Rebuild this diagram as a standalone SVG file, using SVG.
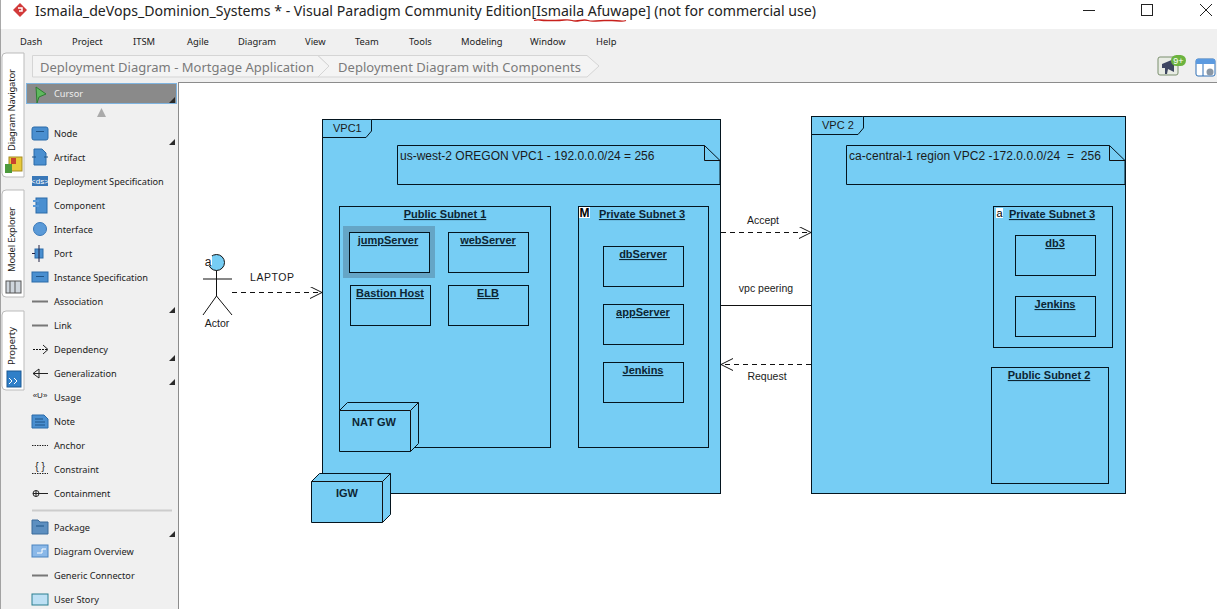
<svg xmlns="http://www.w3.org/2000/svg" width="1217" height="609" viewBox="0 0 1217 609">
<style>
text{font-family:"Liberation Sans",Arial,sans-serif;fill:#1a1a1a}
.ui{font-family:"Noto Sans","Open Sans",sans-serif}
.menu{font-family:"Noto Sans",sans-serif;font-size:9.4px;fill:#222}
.pal{font-family:"Noto Sans",sans-serif;font-size:9.2px;fill:#222}
.crumb{font-family:"Noto Sans",sans-serif;font-size:13px;fill:#7a7a7a}
.side{font-family:"Noto Sans",sans-serif;font-size:9.5px;fill:#222}
.box{fill:#76cdf4;stroke:#04151f;stroke-width:1}
.t{font-size:11px;font-weight:bold;text-anchor:middle;text-decoration:underline;fill:#0c2533}
.nn{font-size:11px;font-weight:bold;text-anchor:middle;fill:#0c2533}
.lbl{font-size:10.5px;text-anchor:middle}
.note{font-size:12px}
.conn{fill:none;stroke:#111;stroke-width:1}
.dash{stroke-dasharray:5 4}
.ic{fill:#4a8fd0;stroke:#2a6aa8;stroke-width:1}
.il{fill:none;stroke:#1f5488;stroke-width:1}
.gl{fill:none;stroke:#777;stroke-width:2}
.bl{fill:none;stroke:#222;stroke-width:1}
.tri{fill:#2a2a2a}
</style>
<defs>
<marker id="open" markerWidth="14" markerHeight="14" refX="12" refY="6" orient="auto-start-reverse" markerUnits="userSpaceOnUse"><path d="M0 0 L12 6 L0 12" fill="none" stroke="#111" stroke-width="1"/></marker>
</defs>
<rect width="1217" height="609" fill="#fff"/>
<g id="window-chrome">
<rect x="0" y="29" width="1217" height="53" fill="#f0f0f0"/>
<rect x="0" y="82" width="178" height="527" fill="#f0f0f0"/>
<path d="M178.500 82.500H1217M178.500 82V609" stroke="#8c8c8c" fill="none"/>
<path d="M0 0V609" stroke="#555" stroke-width="1"/>
<path d="M20 3 L27 10 L20 17 L13 10Z" fill="#d23a3a"/>
<path d="M18 8h4v3h-3" fill="none" stroke="#fff" stroke-width="1.500"/>
<text class="ui" x="35" y="16" font-size="14.500" textLength="781" lengthAdjust="spacingAndGlyphs" style="fill:#222">Ismaila_deVops_Dominion_Systems * - Visual Paradigm Community Edition[Ismaila Afuwape] (not for commercial use)</text>
<path d="M534 20.500q3 -1 6 -.5t8 .5t8 0t8 -.5t8 .5t8 0t8 0t8 .5t8 -.5t8 0t8 .5t6 -.5" fill="none" stroke="#c8201c" stroke-width="1.300"/>
<path d="M1083 10.500H1095M1200 4L1212 16M1212 4L1200 16" stroke="#222" fill="none"/>
<rect x="1141.500" y="4.500" width="11" height="11" fill="none" stroke="#222"/>
<g id="menu">
<text class="menu" x="20" y="45">Dash</text><text class="menu" x="72" y="45">Project</text><text class="menu" x="133" y="45">ITSM</text><text class="menu" x="187" y="45">Agile</text><text class="menu" x="238" y="45">Diagram</text><text class="menu" x="305" y="45">View</text><text class="menu" x="355" y="45">Team</text><text class="menu" x="409" y="45">Tools</text><text class="menu" x="461" y="45">Modeling</text><text class="menu" x="530" y="45">Window</text><text class="menu" x="596" y="45">Help</text>
</g>
<g id="breadcrumb">
<path d="M32.500 77V55.500H318L329 66L318 77Z" fill="#f4f4f4" stroke="#d5d5d5"/>
<path d="M318 55.500H587L599 66L587 77H318L329 66Z" fill="#f4f4f4" stroke="#d5d5d5"/>
<text class="crumb" x="40" y="71.500" textLength="274">Deployment Diagram - Mortgage Application</text>
<text class="crumb" x="338" y="71.500" textLength="243">Deployment Diagram with Components</text>
</g>
<g id="top-icons">
<rect x="1158" y="57" width="20" height="18" rx="2" fill="#e8ece4" stroke="#7b8f6e"/>
<path d="M1162 64L1174 59V72L1168 69L1167 74H1165L1165 68H1162Z" fill="#3d4660"/>
<rect x="1171" y="55" width="15" height="11" rx="5.500" fill="#6cb33f"/>
<text x="1178.500" y="64" font-size="9" text-anchor="middle" style="fill:#fff">9+</text>
<rect x="1196" y="59" width="19" height="17" rx="2" fill="#fff" stroke="#2e6fb5"/>
<rect x="1196" y="59" width="19" height="5" fill="#5b9ae0"/>
<path d="M1203 64V76" stroke="#2e6fb5"/>
<circle cx="1210" cy="72" r="3.500" fill="#8a97a5"/>
</g>
<g id="side-tabs">
<path d="M24 177H6Q2 177 2 173V57Q2 53 6 53H24Z" fill="#fff" stroke="#bbb"/>
<path d="M24 297H6Q2 297 2 293V194Q2 190 6 190H24Z" fill="#fff" stroke="#bbb"/>
<path d="M24 390H6Q2 390 2 386V315Q2 311 6 311H24Z" fill="#fff" stroke="#bbb"/>
<text class="side" transform="translate(15 151) rotate(-90)" textLength="82">Diagram Navigator</text>
<text class="side" transform="translate(15 272) rotate(-90)" textLength="65">Model Explorer</text>
<text class="side" transform="translate(15 365) rotate(-90)" textLength="38">Property</text>
<rect x="9" y="157" width="13" height="14" fill="#e8c93a" stroke="#a38a20"/><rect x="5" y="164" width="7" height="9" fill="#4c9a3c"/><rect x="11" y="158" width="5" height="6" fill="#c8412f"/>
<rect x="6" y="281" width="15" height="12" fill="#cfd6dd" stroke="#555"/><path d="M10 281V293M15 281V293" stroke="#555"/>
<rect x="7" y="371" width="14" height="16" fill="#2f7fc8" stroke="#1d5a94"/><path d="M9 378l3 3l-3 3M14 378l3 3l-3 3" fill="none" stroke="#fff"/>
</g>
<g id="palette">
<rect x="26.500" y="83.500" width="150" height="20" fill="#8a8a8a" stroke="#7fb4e0"/>
<path d="M36 87L46 94L39 97L37 103Z" fill="#5fb85f" stroke="#2e7d32"/>
<text class="pal" x="54" y="96.500" style="fill:#eee">Cursor</text>
<path d="M101.500 108L106 117H97Z" fill="#aaa"/>
<g class="tri"><path d="M175 97V103H169Z"/><path d="M175 139V145H169Z"/><path d="M175 307V313H169Z"/><path d="M175 355V361H169Z"/><path d="M175 379V385H169Z"/><path d="M175 531V537H169Z"/></g>
<rect class="ic" x="32" y="127" width="16" height="13" rx="2"/><path class="il" d="M36 131.500H44"/>
<path class="ic" d="M34 149H42L46 153V165H34Z"/><path d="M32 157H36M44 157H48" stroke="#1f5488"/>
<rect x="32" y="176" width="16" height="10" fill="#3a78b8"/><text x="40" y="184" font-size="8" text-anchor="middle" style="fill:#fff">&lt;ds&gt;</text>
<rect class="ic" x="36" y="198" width="11" height="15"/><path d="M33 201h6M33 206h6" stroke="#5a9ad8" stroke-width="2"/>
<circle cx="40" cy="229" r="6.500" fill="#5a9ad8" stroke="#3a78b8"/>
<rect class="ic" x="35" y="249" width="8" height="9"/><path d="M39 245V262M32 253.500H35" stroke="#224"/>
<rect class="ic" x="32" y="272" width="16" height="10"/><path class="il" d="M36 276.500H44"/>
<path class="gl" d="M32 301.500H48M32 325.500H48M32 575.500H48"/>
<path class="conn" style="stroke-dasharray:2 1" d="M33 349.500H47"/><path class="bl" d="M43 345L48 349.500L43 354"/>
<path class="bl" d="M33 373.500H48M39 369L33 373.500L39 378Z"/>
<text x="40" y="398" font-size="8" text-anchor="middle" style="fill:#222">«U»</text>
<path class="ic" d="M32 415H44L48 419V428H32Z"/><path class="il" d="M35 419H43M35 422H45M35 425H45"/>
<path class="bl" style="stroke-dasharray:1.500 1" d="M32 445.500H48"/>
<text x="40" y="470" font-size="10" text-anchor="middle" style="fill:#222">{ }</text><path class="bl" style="stroke-dasharray:1.500 1" d="M32 473.500H48"/>
<circle cx="36" cy="493.500" r="3" fill="none" stroke="#222"/><path class="bl" d="M33 493.500H48M36 490.500V496.500"/>
<path d="M32 510.500H172" stroke="#ccc" stroke-width="2"/>
<path d="M32 520H38L40 522H48V534H32Z" fill="#5d8fc0" stroke="#3a6a9a"/><path class="il" d="M36 526H44"/>
<rect x="32" y="545" width="16" height="12" fill="#8ab8e8" stroke="#4a84c0"/><path d="M37 553H42V549H46" fill="none" stroke="#fff"/>
<rect x="32" y="594" width="16" height="11" fill="#bde0f4" stroke="#2a7f8f"/>
<text class="pal" x="54" y="136.500">Node</text>
<text class="pal" x="54" y="160.500">Artifact</text>
<text class="pal" x="54" y="184.500">Deployment Specification</text>
<text class="pal" x="54" y="208.500">Component</text>
<text class="pal" x="54" y="232.500">Interface</text>
<text class="pal" x="54" y="256.500">Port</text>
<text class="pal" x="54" y="280.500">Instance Specification</text>
<text class="pal" x="54" y="304.500">Association</text>
<text class="pal" x="54" y="328.500">Link</text>
<text class="pal" x="54" y="352.500">Dependency</text>
<text class="pal" x="54" y="376.500">Generalization</text>
<text class="pal" x="54" y="400.500">Usage</text>
<text class="pal" x="54" y="424.500">Note</text>
<text class="pal" x="54" y="448.500">Anchor</text>
<text class="pal" x="54" y="472.500">Constraint</text>
<text class="pal" x="54" y="496.500">Containment</text>
<text class="pal" x="54" y="530.500">Package</text>
<text class="pal" x="54" y="554.500">Diagram Overview</text>
<text class="pal" x="54" y="578.500">Generic Connector</text>
<text class="pal" x="54" y="602.500">User Story</text>
</g>
</g>
<g id="vpc1">
<rect class="box" x="322.500" y="119.500" width="398" height="374"/>
<path class="box" d="M322.500 137.500H366L371.500 131V119.500"/>
<text x="333" y="132" font-size="11">VPC1</text>
</g>
<g id="vpc2">
<rect class="box" x="811.500" y="116.500" width="314" height="377"/>
<path class="box" d="M811.500 134.500H858L863.500 128V116.500"/>
<text x="822" y="129" font-size="11">VPC 2</text>
</g>
<g id="note-vpc1">
<path class="box" d="M397.500 145.500H704.500L720 160.500V184.500H397.500Z"/>
<path class="conn" d="M704.500 145.500V160.500H720"/>
<text class="note" x="400" y="160">us-west-2 OREGON VPC1 - 192.0.0.0/24 = 256</text>
</g>
<g id="note-vpc2">
<path class="box" d="M846.500 145.500H1109.500L1125 160.500V184.500H846.500Z"/>
<path class="conn" d="M1109.500 145.500V160.500H1125"/>
<text class="note" x="849" y="160" textLength="252" xml:space="preserve">ca-central-1 region VPC2 -172.0.0.0/24  =  256</text>
</g>
<g id="public-subnet-1"><rect class="box" x="339.500" y="206.500" width="211" height="241"/><text class="t" x="445" y="218">Public Subnet 1</text></g>
<g id="jumpServer"><rect x="343" y="226" width="92" height="52" fill="#65a5c6"/><rect class="box" x="349.500" y="232.500" width="80" height="40"/><text class="t" x="388" y="244">jumpServer</text></g>
<g id="webServer"><rect class="box" x="448.500" y="232.500" width="80" height="40"/><text class="t" x="488" y="244">webServer</text></g>
<g id="bastion-host"><rect class="box" x="350.500" y="285.500" width="80" height="40"/><text class="t" x="390" y="297">Bastion Host</text></g>
<g id="elb"><rect class="box" x="448.500" y="285.500" width="80" height="40"/><text class="t" x="488" y="297">ELB</text></g>
<g id="nat-gw"><path class="box" d="M339.500 410.500L347.500 402.500H418.500V443.500L410.500 451.500H339.500Z"/><path class="conn" d="M339.500 410.500H410.500V451.500M410.500 410.500L418.500 402.500"/><text class="nn" x="374" y="426">NAT GW</text></g>
<g id="private-subnet-3"><rect class="box" x="578.500" y="206.500" width="130" height="241"/><rect x="579" y="207" width="11" height="11" fill="#fff"/><text x="584.500" y="216.500" font-size="12" font-weight="bold" text-anchor="middle" style="fill:#000">M</text><text class="t" x="642" y="218">Private Subnet 3</text></g>
<g id="dbServer"><rect class="box" x="603.500" y="246.500" width="80" height="40"/><text class="t" x="643" y="258">dbServer</text></g>
<g id="appServer"><rect class="box" x="603.500" y="304.500" width="80" height="40"/><text class="t" x="643" y="316">appServer</text></g>
<g id="jenkins-1"><rect class="box" x="603.500" y="362.500" width="80" height="40"/><text class="t" x="643" y="374">Jenkins</text></g>
<g id="igw"><path class="box" d="M311.500 481.500L319.500 473.500H390.500V514.500L382.500 522.500H311.500Z"/><path class="conn" d="M311.500 481.500H382.500V522.500M382.500 481.500L390.500 473.500"/><text class="nn" x="347" y="497">IGW</text></g>
<g id="private-subnet-3b"><rect class="box" x="993.500" y="206.500" width="119" height="141"/><rect x="996" y="208" width="7" height="10" fill="#fff"/><text x="999.500" y="216.500" font-size="11" text-anchor="middle" style="fill:#000">a</text><text class="t" x="1052" y="218">Private Subnet 3</text></g>
<g id="db3"><rect class="box" x="1015.500" y="235.500" width="80" height="40"/><text class="t" x="1055" y="247">db3</text></g>
<g id="jenkins-2"><rect class="box" x="1015.500" y="296.500" width="80" height="40"/><text class="t" x="1055" y="308">Jenkins</text></g>
<g id="public-subnet-2"><rect class="box" x="991.500" y="367.500" width="117" height="116"/><text class="t" x="1049" y="379">Public Subnet 2</text></g>
<g id="actor">
<circle cx="216.500" cy="262.500" r="8" fill="#76cdf4" stroke="#111"/>
<path class="conn" d="M216.500 270.500V296M203 279H232M216.500 296L203 315M216.500 296L232 315"/>
<rect x="205" y="256" width="7" height="10" fill="#fff"/>
<text x="208" y="266" font-size="12" text-anchor="middle">a</text>
<text class="lbl" x="217" y="327">Actor</text>
</g>
<g id="connectors">
<path class="conn dash" d="M232 292.500H322" marker-end="url(#open)"/>
<path class="conn dash" d="M721 232.500H811" marker-end="url(#open)"/>
<path class="conn" d="M721 305.500H811"/>
<path class="conn dash" d="M811 364.500H721" marker-end="url(#open)"/>
<text class="lbl" x="272" y="281" font-size="11" textLength="44">LAPTOP</text>
<text class="lbl" x="763" y="224">Accept</text>
<text class="lbl" x="766" y="292">vpc peering</text>
<text class="lbl" x="767" y="380">Request</text>
</g>
</svg>
